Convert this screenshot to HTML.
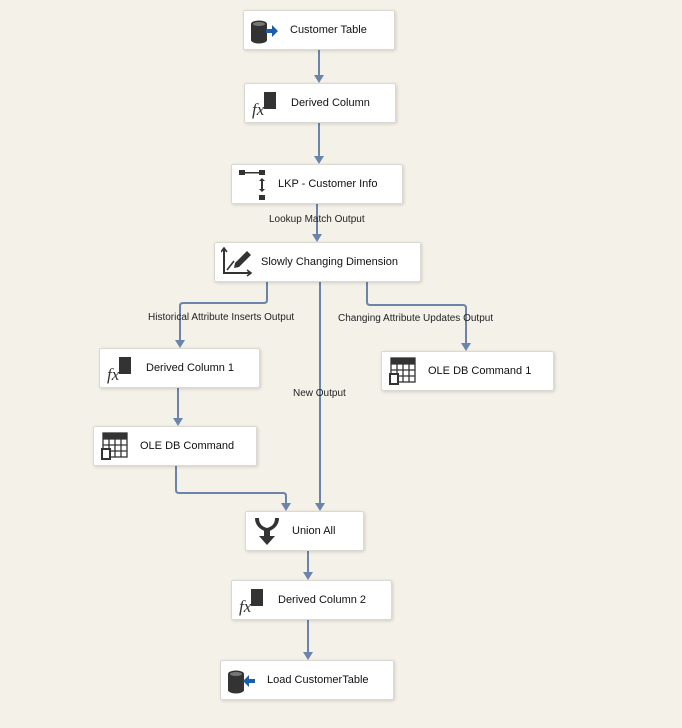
<!DOCTYPE html>
<html><head><meta charset="utf-8"><style>
html,body{margin:0;padding:0;}
body{width:682px;height:728px;background:#f4f1e9;position:relative;overflow:hidden;font-family:"Liberation Sans",sans-serif;}
.n{position:absolute;background:#fff;border:1px solid #dcd9d2;border-radius:2px;box-shadow:1px 1px 3px rgba(0,0,0,0.15);box-sizing:border-box;height:40px;}
.n span{position:absolute;top:13px;font-size:11px;color:#111;white-space:nowrap;}
.n svg{position:absolute;top:6px;}
.l{position:absolute;font-size:10px;color:#222;white-space:nowrap;}
</style></head><body>
<svg width="682" height="728" style="position:absolute;left:0;top:0">
<g stroke="#6a84aa" stroke-width="2" fill="none">
<path d="M319,50 V76"/><path d="M319,123 V157"/><path d="M317,204 V235"/>
<path d="M267,282 V300 Q267,303 264,303 H183 Q180,303 180,306 V341"/>
<path d="M320,282 V504"/>
<path d="M367,282 V302 Q367,305 370,305 H463 Q466,305 466,308 V344"/>
<path d="M178,388 V419"/>
<path d="M176,466 V490 Q176,493 179,493 H283 Q286,493 286,496 V504"/>
<path d="M308,551 V573"/><path d="M308,620 V653"/>
</g>
<g fill="#6a84aa">
<path d="M314,75 L324,75 L319,83 z"/><path d="M314,156 L324,156 L319,164 z"/><path d="M312,234 L322,234 L317,242 z"/>
<path d="M175,340 L185,340 L180,348 z"/><path d="M315,503 L325,503 L320,511 z"/><path d="M461,343 L471,343 L466,351 z"/>
<path d="M173,418 L183,418 L178,426 z"/><path d="M281,503 L291,503 L286,511 z"/>
<path d="M303,572 L313,572 L308,580 z"/><path d="M303,652 L313,652 L308,660 z"/>
</g>
</svg>

<div class="l" style="left:269px;top:214px">Lookup Match Output</div>
<div class="l" style="left:148px;top:312px">Historical Attribute Inserts Output</div>
<div class="l" style="left:338px;top:313px">Changing Attribute Updates Output</div>
<div class="l" style="left:293px;top:388px">New Output</div>

<div class="n" style="left:243px;top:10px;width:152px">
<svg width="30" height="28" style="left:5px"><ellipse cx="10" cy="7" rx="8" ry="3.5" fill="#333"/><rect x="2" y="7" width="16" height="16" fill="#333"/><ellipse cx="10" cy="23" rx="8" ry="3.5" fill="#333"/><ellipse cx="10" cy="7" rx="6" ry="2" fill="#777"/><path d="M17,12 h6 v-4 l6,6 l-6,6 v-4 h-6 z" fill="#1a5fa8"/></svg>
<span style="left:46px">Customer Table</span></div>

<div class="n" style="left:244px;top:83px;width:152px">
<svg width="32" height="30" style="left:5px;top:5px"><rect x="14" y="3" width="12" height="17" fill="#333"/><text x="2" y="26" font-family="Liberation Serif,serif" font-style="italic" font-size="17" fill="#333">fx</text></svg>
<span style="left:46px">Derived Column</span></div>

<div class="n" style="left:231px;top:164px;width:172px">
<svg width="30" height="32" style="left:6px;top:4px"><rect x="1" y="1" width="6" height="5" fill="#333"/><rect x="21" y="1" width="6" height="5" fill="#333"/><rect x="7" y="3" width="14" height="1.5" fill="#333"/><rect x="21" y="26" width="6" height="5" fill="#333"/><path d="M24,9 l-3,3 h2 v8 h-2 l3,3 l3,-3 h-2 v-8 h2 z" fill="#333"/></svg>
<span style="left:46px">LKP - Customer Info</span></div>

<div class="n" style="left:214px;top:242px;width:207px">
<svg width="34" height="30" style="left:6px;top:4px"><path d="M3,2 v24 h26" stroke="#333" stroke-width="2" fill="none"/><path d="M0,5 l3,-4 l3,4 M26,23 l4,3 l-4,3" stroke="#333" stroke-width="1.6" fill="none"/><path d="M6,23 l7,-9" stroke="#333" stroke-width="1.6"/><path d="M14,16 l12,-12 l4,4 l-12,12 l-5,1 z" fill="#333"/></svg>
<span style="left:46px">Slowly Changing Dimension</span></div>

<div class="n" style="left:99px;top:348px;width:161px">
<svg width="32" height="30" style="left:5px;top:5px"><rect x="14" y="3" width="12" height="17" fill="#333"/><text x="2" y="26" font-family="Liberation Serif,serif" font-style="italic" font-size="17" fill="#333">fx</text></svg>
<span style="left:46px">Derived Column 1</span></div>

<div class="n" style="left:381px;top:351px;width:173px">
<svg width="30" height="30" style="left:6px;top:4px"><g stroke="#333" stroke-width="1.3" fill="none"><rect x="3" y="2" width="24" height="24"/><path d="M3,8 h24 M3,14 h24 M3,20 h24 M9,2 v24 M15,2 v24 M21,2 v24"/></g><rect x="3" y="2" width="24" height="6" fill="#333"/><path d="M2,28 v-10 h8 v10 z" fill="#fff" stroke="#333" stroke-width="2"/></svg>
<span style="left:46px">OLE DB Command 1</span></div>

<div class="n" style="left:93px;top:426px;width:164px">
<svg width="30" height="30" style="left:6px;top:4px"><g stroke="#333" stroke-width="1.3" fill="none"><rect x="3" y="2" width="24" height="24"/><path d="M3,8 h24 M3,14 h24 M3,20 h24 M9,2 v24 M15,2 v24 M21,2 v24"/></g><rect x="3" y="2" width="24" height="6" fill="#333"/><path d="M2,28 v-10 h8 v10 z" fill="#fff" stroke="#333" stroke-width="2"/></svg>
<span style="left:46px">OLE DB Command</span></div>

<div class="n" style="left:245px;top:511px;width:119px">
<svg width="30" height="30" style="left:6px;top:4px"><path d="M3,2 q0,10 12,14 q12,-4 12,-14 l-4,0 q0,8 -8,10 q-8,-2 -8,-10 z" fill="#333"/><path d="M12,14 v6 h-5 l8,9 l8,-9 h-5 v-6 z" fill="#333"/></svg>
<span style="left:46px">Union All</span></div>

<div class="n" style="left:231px;top:580px;width:161px">
<svg width="32" height="30" style="left:5px;top:5px"><rect x="14" y="3" width="12" height="17" fill="#333"/><text x="2" y="26" font-family="Liberation Serif,serif" font-style="italic" font-size="17" fill="#333">fx</text></svg>
<span style="left:46px">Derived Column 2</span></div>

<div class="n" style="left:220px;top:660px;width:174px">
<svg width="30" height="28" style="left:5px"><ellipse cx="10" cy="7" rx="8" ry="3.5" fill="#333"/><rect x="2" y="7" width="16" height="16" fill="#333"/><ellipse cx="10" cy="23" rx="8" ry="3.5" fill="#333"/><ellipse cx="10" cy="7" rx="6" ry="2" fill="#777"/><path d="M29,12 h-6 v-4 l-6,6 l6,6 v-4 h6 z" fill="#1a5fa8"/></svg>
<span style="left:46px">Load CustomerTable</span></div>
</body></html>
